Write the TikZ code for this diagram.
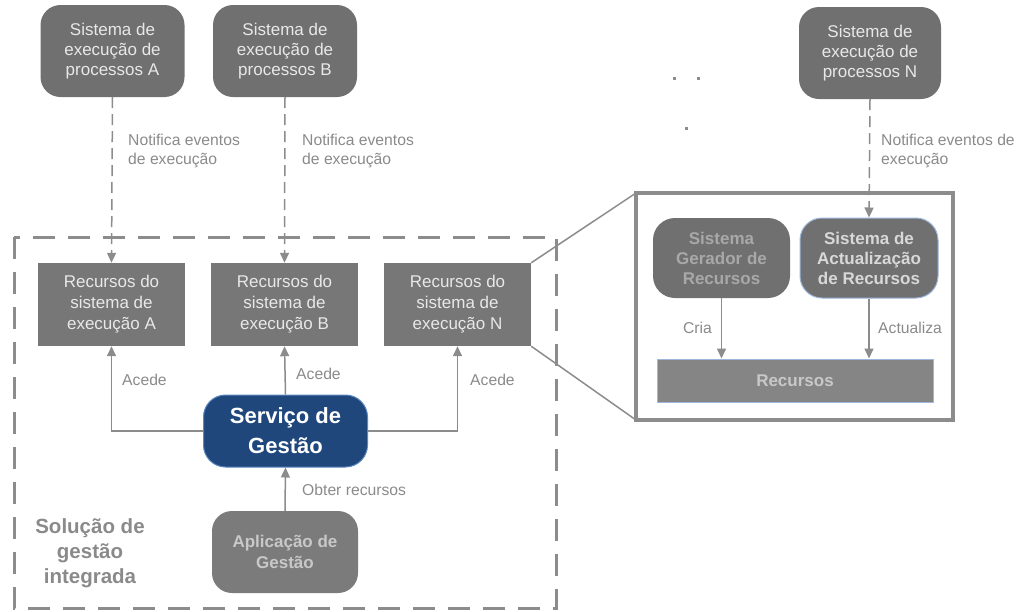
\documentclass[tikz,border=0pt]{standalone}
\usepackage{fontspec}
\setmainfont{Liberation Sans}
\usetikzlibrary{arrows.meta}
\definecolor{boxgray}{HTML}{707070}
\definecolor{resgray}{HTML}{777777}
\definecolor{labgray}{HTML}{8A8A8A}
\definecolor{linegray}{HTML}{8C8C8C}
\definecolor{appgray}{HTML}{7B7B7B}
\definecolor{apptext}{HTML}{C8C8C8}
\definecolor{gertext}{HTML}{A8A8A8}
\definecolor{acttext}{HTML}{D8D8D8}
\definecolor{lightblue}{HTML}{9DB6DC}
\definecolor{servblue}{HTML}{1F477C}
\definecolor{servborder}{HTML}{5B86C0}
\definecolor{boxtext}{HTML}{E8E8E8}
\tikzset{
  topbox/.style={fill=boxgray, draw=none, rounded corners=20pt, minimum width=144pt, minimum height=92pt, inner sep=0pt, align=center, text=boxtext, font=\fontsize{17}{20}\selectfont},
  resbox/.style={fill=resgray, draw=none, minimum width=147pt, minimum height=83pt, inner sep=0pt, align=center, text=boxtext, font=\fontsize{17}{21}\selectfont},
  lbl/.style={text=labgray, align=left, anchor=west, inner sep=0pt, font=\fontsize{15.7}{19}\selectfont},
  conn/.style={draw=linegray, line width=1.5pt, -{Triangle[width=9pt,length=10pt]}},
  dconn/.style={conn, dash pattern=on 11pt off 6pt},
  plain/.style={draw=linegray, line width=1.5pt},
}
\begin{document}
\begin{tikzpicture}[x=1pt,y=-1pt]
\useasboundingbox (0,0) rectangle (1017,611);
% container
\draw[linegray, line width=3pt, dash pattern=on 22pt off 13pt] (14,237) rectangle (556,608);
\node[text=labgray, font=\bfseries\fontsize{20.5}{25}\selectfont, align=center, inner sep=0pt] (sol) at (90,553) {Solução de\\gestão\\integrada};

% top boxes
\node[topbox] (pA) at (112.5,51) {Sistema de\\execução de\\processos A};
\node[topbox] (pB) at (285,51) {Sistema de\\execução de\\processos B};
\node[topbox, minimum width=142pt] (pN) at (870,53) {Sistema de\\execução de\\processos N};

% dots
\fill[linegray] (672.5,76.5) rectangle (675.5,79.5);
\fill[linegray] (696.5,76.5) rectangle (699.5,79.5);
\fill[linegray] (684.5,126.5) rectangle (687.5,129.5);

% resource boxes
\node[resbox] (rA) at (111.5,304.5) {Recursos do\\sistema de\\execução A};
\node[resbox] (rB) at (284.5,304.5) {Recursos do\\sistema de\\execução B};
\node[resbox] (rN) at (457.5,304.5) {Recursos do\\sistema de\\execução N};

% service
\node[fill=servblue, draw=servborder, line width=1pt, rounded corners=22pt, minimum width=164pt, minimum height=72pt, inner sep=0pt, align=center, text=white, font=\bfseries\fontsize{22}{30}\selectfont] (serv) at (285.5,431) {Serviço de\\Gestão};

% application
\node[fill=appgray, draw=none, rounded corners=20pt, minimum width=146pt, minimum height=82pt, inner sep=0pt, align=center, text=apptext, font=\bfseries\fontsize{17}{21}\selectfont] (app) at (285,552) {Aplicação de\\Gestão};

% right detail box
\draw[linegray, line width=4pt] (636,193) rectangle (953,420);
\coordinate (dTL) at (636,193);
\coordinate (dBL) at (636,420);
\node[fill=boxgray, draw=none, rounded corners=22pt, minimum width=137pt, minimum height=80pt, inner sep=0pt, align=center, text=gertext, font=\bfseries\fontsize{17}{20}\selectfont] (ger) at (721.5,258) {Sistema\\Gerador de\\Recursos};
\node[fill=boxgray, draw=lightblue, line width=1pt, rounded corners=22pt, minimum width=138pt, minimum height=80pt, inner sep=0pt, align=center, text=acttext, font=\bfseries\fontsize{17}{20}\selectfont] (act) at (869,258) {Sistema de\\Actualização\\de Recursos};
\node[fill=resgray!90!white, draw=lightblue, line width=1pt, minimum width=276pt, minimum height=43pt, inner sep=0pt, text=apptext, font=\bfseries\fontsize{17}{20}\selectfont] (rec) at (795,380.5) {Recursos};

% zoom lines
\draw[linegray, line width=1.5pt] (rN.north east) -- (dTL);
\draw[linegray, line width=1.5pt] (rN.south east) -- (dBL);

% dashed notify connectors
\draw[dconn] (pA.south) -- (rA.north);
\draw[dconn] (pB.south) -- (rB.north);
\draw[dconn] (pN.south) -- (act.north);
\node[lbl] (nA) at (128,151) {Notifica eventos\\de execução};
\node[lbl] (nB) at (302,151) {Notifica eventos\\de execução};
\node[lbl] (nN) at (881,151) {Notifica eventos de\\execução};

% access connectors
\draw[conn] (serv.west) -| (rA.south);
\draw[conn] (serv.north) -- (rB.south);
\draw[conn] (serv.east) -| (rN.south);
\node[lbl] (aA) at (122,380) {Acede};
\node[lbl] (aB) at (296,374) {Acede};
\node[lbl] (aN) at (470,380) {Acede};

% get resources
\draw[conn] (app.north) -- (serv.south);
\node[lbl] (ob) at (302,490) {Obter recursos};

% inner connectors
\draw[conn] (ger.south) -- (ger.south |- rec.north);
\draw[conn] (act.south) -- (act.south |- rec.north);
\node[lbl, anchor=east] (cr) at (712,328) {Cria};
\node[lbl] (ac) at (878,328) {Actualiza};
\end{tikzpicture}
\end{document}
